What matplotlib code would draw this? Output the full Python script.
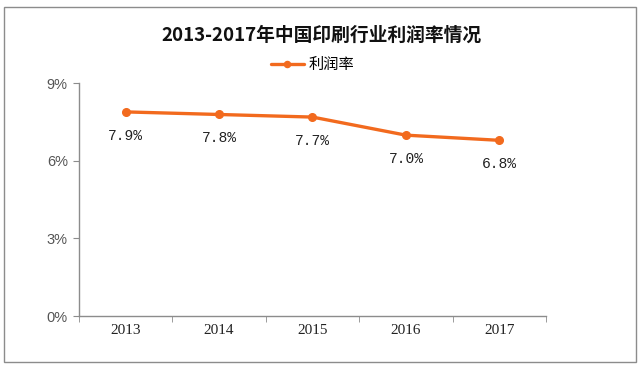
import matplotlib.pyplot as plt
from matplotlib.patches import Rectangle

plt.rcParams['font.family'] = ['Noto Sans CJK SC', 'DejaVu Sans']

# datos
years = ['2013', '2014', '2015', '2016', '2017']
profit_rate = [7.9, 7.8, 7.7, 7.0, 6.8]
label_text = ['7.9%', '7.8%', '7.7%', '7.0%', '6.8%']
y_ticks = [0, 3, 6, 9]
y_tick_labels = ['0%', '3%', '6%', '9%']

orange = '#F26A1E'

fig = plt.figure(figsize=(6.4, 3.66), dpi=100)
fig.patch.set_facecolor('white')
fig.patches.append(Rectangle((0.006, 0.012), 0.988, 0.968, transform=fig.transFigure,
                             fill=False, edgecolor='#8c8c8c', linewidth=1.0))

ax = fig.add_axes([0.1234, 0.1366, 0.7297, 0.6353])
x = list(range(len(years)))
ax.plot(x, profit_rate, color=orange, linewidth=2.4, marker='o', markersize=5.5,
        solid_capstyle='round', label='利润率', zorder=3)

for xi, v, t in zip(x, profit_rate, label_text):
    ax.annotate(t, (xi, v), xytext=(0, -12), textcoords='offset points',
                ha='center', va='top', fontsize=10.5, family='Liberation Mono', color='#222222')

ax.set_xlim(-0.5, len(years) - 0.5)
ax.set_ylim(0, 9)
ax.set_yticks(y_ticks)
ax.set_yticklabels(y_tick_labels, fontsize=10.5, color='#555555', family='Liberation Sans')
ax.set_xticks(x)
ax.set_xticklabels(years, fontsize=11, family='Liberation Serif', color='#222222')
ax.set_xticks([i - 0.5 for i in range(len(years) + 1)], minor=True)
ax.tick_params(axis='x', which='major', length=0, pad=6)
ax.tick_params(axis='x', which='minor', length=4, color='#8c8c8c', direction='out')
ax.tick_params(axis='y', length=4, color='#8c8c8c', direction='out', pad=4)

for side in ['top', 'right']:
    ax.spines[side].set_visible(False)
for side in ['left', 'bottom']:
    ax.spines[side].set_color('#8c8c8c')
    ax.spines[side].set_linewidth(1.0)

fig.text(0.502, 0.905, '2013-2017年中国印刷行业利润率情况', ha='center', va='center',
         fontsize=13.5, fontweight='bold', color='#111111')
ax.legend(loc='center', bbox_to_anchor=(0.5, 1.08), frameon=False, fontsize=11,
          handlelength=2.2, handletextpad=0.3, borderaxespad=0, markerscale=0.8)

plt.savefig('out.png', dpi=100)
